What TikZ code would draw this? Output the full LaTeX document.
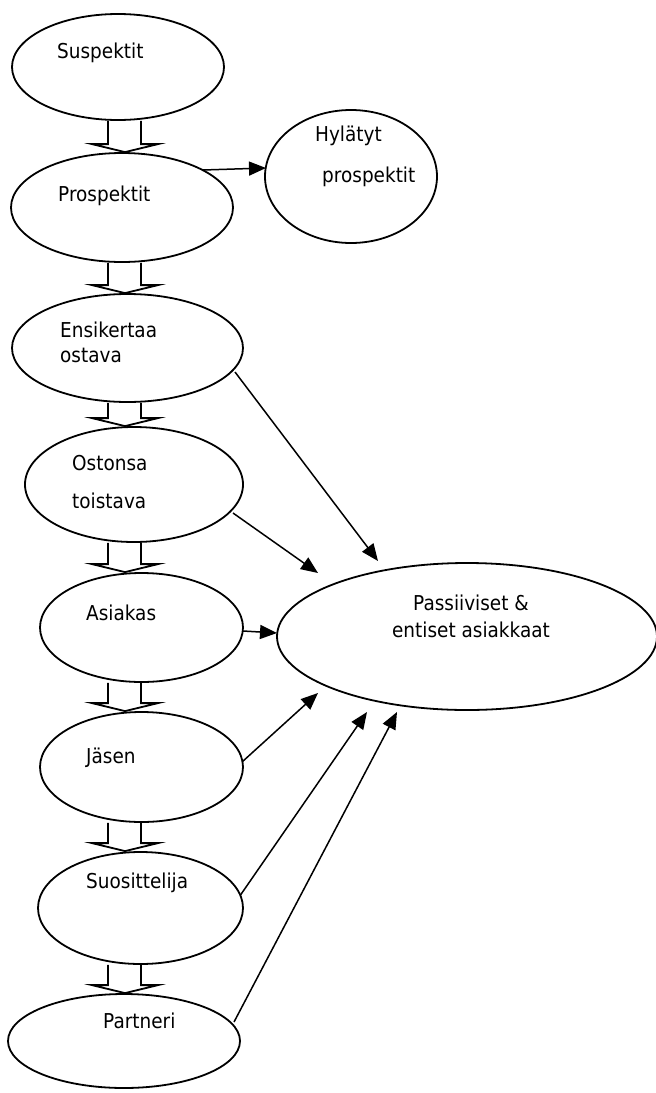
\documentclass[tikz,border=0pt]{standalone}
\usepackage{fontspec}
\setmainfont{DejaVu Sans}[FakeStretch=0.9]
\usetikzlibrary{shapes.geometric,arrows.meta,calc}

% hollow block arrow from the bottom of one stage to the top of the next
\newcommand\stagearrow[2]{%
  \draw[blockarrow] let \p1=(#1.south), \p2=(#2.north) in
    (108pt,\y1) -- (108pt,\y2+8pt) -- (92pt,\y2+8pt) -- (125pt,\y2)
    -- (158pt,\y2+8pt) -- (141pt,\y2+8pt) -- (141pt,\y1);}

\begin{document}
\begin{tikzpicture}[x=1pt,y=-1pt,
  stage/.style={ellipse,draw,line width=1.8pt,inner sep=0pt},
  lbl/.style={anchor=base west,inner sep=0pt,font=\fontsize{20.5}{24}\selectfont},
  flow/.style={line width=1.5pt,-{Triangle[length=17pt,width=14pt]}},
  blockarrow/.style={line width=1.8pt,line join=miter}]
\useasboundingbox (0,0) rectangle (656,1093);

% stages of the customer ladder
\node[stage,minimum width=212pt,minimum height=106pt] (s1) at (118,67) {};
\node[stage,minimum width=222pt,minimum height=109pt] (s2) at (122,207.5) {};
\node[stage,minimum width=172pt,minimum height=133pt] (rej) at (351,176.5) {};
\node[stage,minimum width=231pt,minimum height=108pt] (s3) at (127.5,348) {};
\node[stage,minimum width=218pt,minimum height=115pt] (s4) at (134,484.5) {};
\node[stage,minimum width=203pt,minimum height=109pt] (s5) at (141.5,627.5) {};
\node[stage,minimum width=203pt,minimum height=110pt] (s6) at (141.5,767) {};
\node[stage,minimum width=205pt,minimum height=112pt] (s7) at (140.5,908) {};
\node[stage,minimum width=232pt,minimum height=94pt] (s8) at (124,1041) {};
\node[stage,minimum width=380pt,minimum height=147pt] (pas) at (467,636.5) {};

% labels
\node[lbl] (t1) at (57,58) {Suspektit};
\node[lbl] (t2) at (58,201) {Prospektit};
\node[lbl] (tr1) at (315,141) {Hylätyt};
\node[lbl] (tr2) at (322,182) {prospektit};
\node[lbl] (t3a) at (60,337) {Ensikertaa};
\node[lbl] (t3b) at (60,362) {ostava};
\node[lbl] (t4a) at (72,470) {Ostonsa};
\node[lbl] (t4b) at (72,508) {toistava};
\node[lbl] (t5) at (86,620) {Asiakas};
\node[lbl] (t6) at (86,763) {Jäsen};
\node[lbl] (t7) at (86,888) {Suosittelija};
\node[lbl] (t8) at (103,1028) {Partneri};
\node[lbl,anchor=base] (tp1) at (471,610) {Passiiviset \&};
\node[lbl,anchor=base] (tp2) at (471,637) {entiset asiakkaat};

% block arrows down the ladder
\stagearrow{s1}{s2}
\stagearrow{s2}{s3}
\stagearrow{s3}{s4}
\stagearrow{s4}{s5}
\stagearrow{s5}{s6}
\stagearrow{s6}{s7}
\stagearrow{s7}{s8}

% rejected prospects
\draw[flow] ($(s2.center)+(81,-37.5)$) -- ($(rej.center)+(-85,-8.5)$);

% drop-outs to passive and former customers
\draw[flow] ($(s3.center)+(107.5,24)$) -- ($(pas.center)+(-89,-75.5)$);
\draw[flow] ($(s4.center)+(99,28.5)$) -- ($(pas.center)+(-149,-63.5)$);
\draw[flow] ($(s5.center)+(101.5,3.5)$) -- ($(pas.center)+(-190,-3.5)$);
\draw[flow] ($(s6.center)+(100.5,-5)$) -- ($(pas.center)+(-149,56.5)$);
\draw[flow] ($(s7.center)+(100,-13)$) -- ($(pas.center)+(-100,75.5)$);
\draw[flow] ($(s8.center)+(110,-19)$) -- ($(pas.center)+(-70,75.5)$);
\end{tikzpicture}
\end{document}
